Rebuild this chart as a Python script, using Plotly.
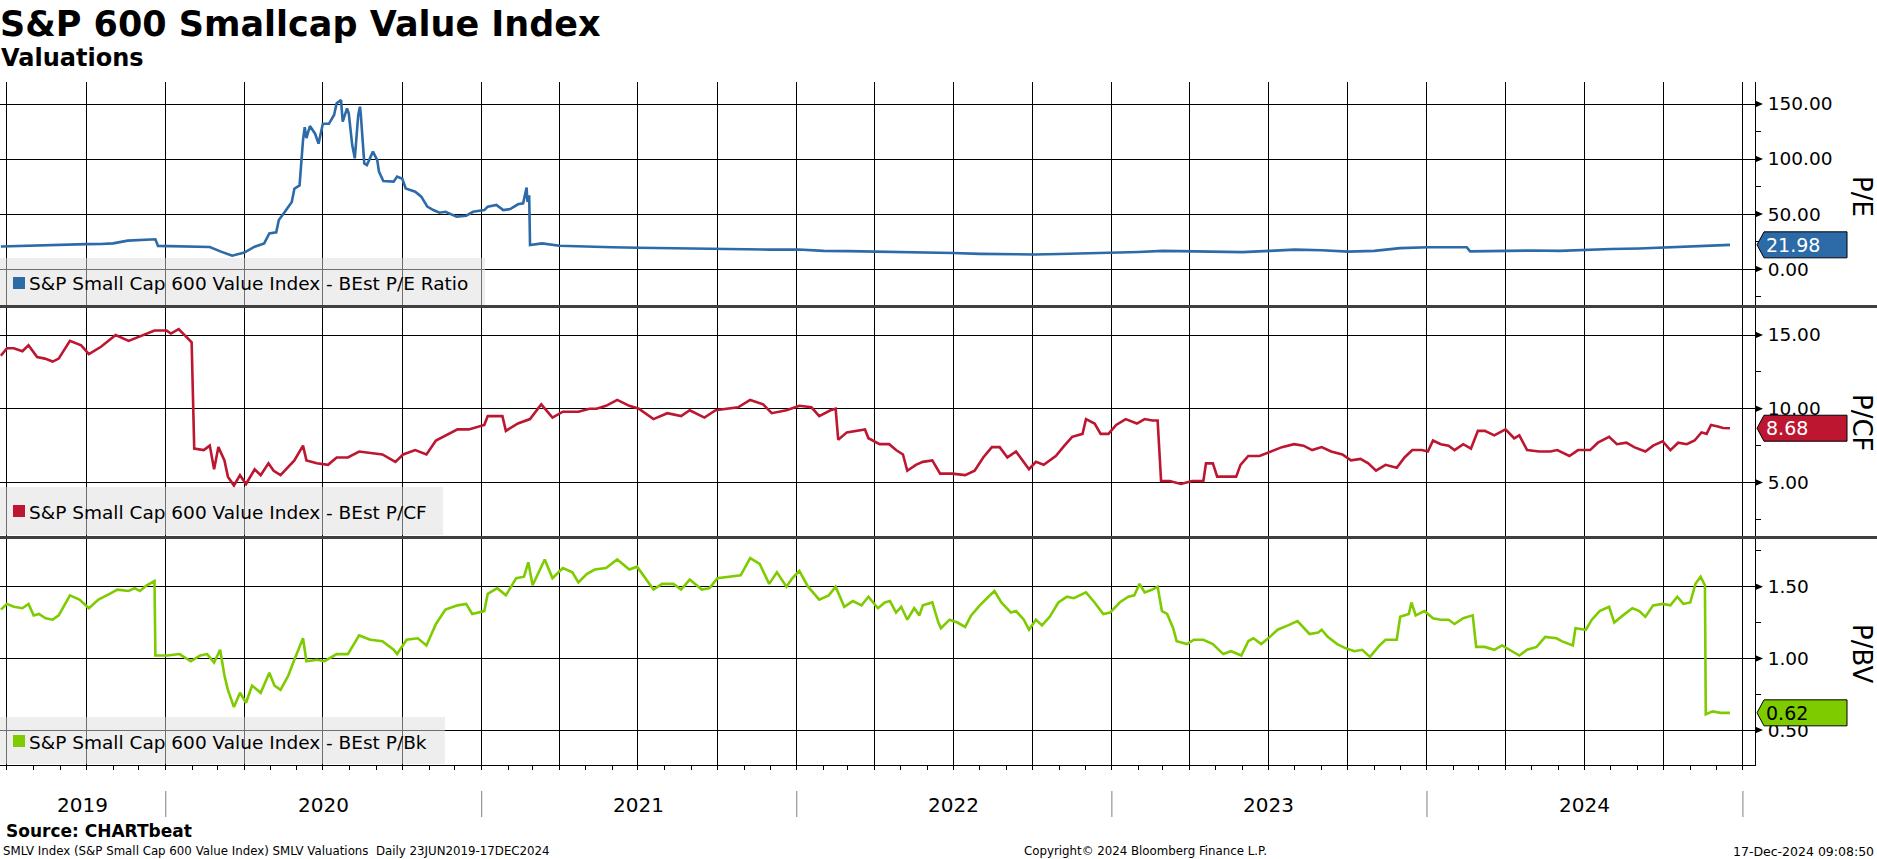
import plotly.graph_objects as go

# ---------------- data ----------------
pe_dates = ["2019-06-24","2019-07-08","2019-07-22","2019-08-05","2019-08-19","2019-09-03","2019-09-17","2019-10-01",
    "2019-10-18","2019-11-01","2019-11-18","2019-12-03","2019-12-20","2019-12-23","2020-01-10","2020-02-03","2020-02-21",
    "2020-03-05","2020-03-18","2020-04-01","2020-04-13","2020-04-24","2020-04-30","2020-05-08","2020-05-11","2020-05-18",
    "2020-05-26","2020-05-29","2020-06-04","2020-06-08","2020-06-10","2020-06-12","2020-06-16","2020-06-22","2020-06-26",
    "2020-07-01","2020-07-08","2020-07-14","2020-07-17","2020-07-22","2020-07-24","2020-07-29","2020-07-31","2020-08-04",
    "2020-08-07","2020-08-11","2020-08-13","2020-08-14","2020-08-18","2020-08-21","2020-08-28","2020-09-02","2020-09-04",
    "2020-09-09","2020-09-21","2020-09-25","2020-10-01","2020-10-05","2020-10-16","2020-10-23","2020-10-30","2020-11-06",
    "2020-11-13","2020-11-20","2020-12-03","2020-12-14","2020-12-22","2021-01-04","2021-01-08","2021-01-18","2021-01-26",
    "2021-02-03","2021-02-12","2021-02-18","2021-02-22","2021-02-23","2021-02-25","2021-02-26","2021-03-12","2021-04-01",
    "2021-05-03","2021-06-01","2021-07-01","2021-08-02","2021-09-01","2021-10-01","2021-11-01","2021-12-01","2022-01-03",
    "2022-02-01","2022-03-01","2022-04-01","2022-05-02","2022-06-01","2022-07-01","2022-08-01","2022-09-01","2022-10-03",
    "2022-11-01","2022-12-01","2023-01-03","2023-02-01","2023-03-01","2023-04-03","2023-05-01","2023-06-01","2023-07-03",
    "2023-08-01","2023-09-01","2023-10-02","2023-11-01","2023-12-01","2024-01-02","2024-02-01","2024-02-16","2024-02-20",
    "2024-03-01","2024-04-01","2024-05-01","2024-06-03","2024-07-01","2024-08-01","2024-09-03","2024-10-01","2024-11-01",
    "2024-12-02","2024-12-17"]
pe_values = [20.5,20.8,21.5,22.0,21.8,22.3,22.8,22.6,
    22.7,23.3,25.8,26.5,27.0,21.0,20.6,20.3,20.0,
    15.8,12.1,15.0,20.3,23.3,32.4,33.3,44.5,52.0,
    61.0,73.0,76.0,117.0,129.0,119.0,130.0,123.0,114.0,
    132.0,132.0,140.0,150.6,153.6,134.0,146.0,141.5,112.7,
    100.6,140.0,147.6,140.0,96.0,94.5,106.7,99.0,88.5,
    80.0,79.4,84.0,82.0,73.3,70.3,65.8,56.7,53.6,
    51.2,52.0,47.6,48.5,52.0,53.6,56.7,58.2,53.6,
    54.5,58.8,59.7,74.0,61.0,67.0,21.8,23.3,21.2,
    20.8,19.8,19.3,18.9,18.7,18.3,18.0,17.6,17.8,
    16.5,16.3,16.0,15.6,15.4,14.6,13.8,13.3,13.2,
    13.6,14.2,14.4,15.5,16.5,16.0,15.5,15.4,16.5,
    17.6,17.0,15.8,16.5,19.0,19.8,20.0,19.8,16.0,
    16.2,16.5,16.8,16.5,17.5,18.2,18.7,19.5,20.5,
    21.8,21.98]

pcf_dates = ["2019-06-24","2019-07-01","2019-07-09","2019-07-19","2019-07-26","2019-08-05","2019-08-14","2019-08-23",
    "2019-08-30","2019-09-12","2019-09-25","2019-10-04","2019-10-18","2019-11-04","2019-11-19","2019-12-02","2019-12-19",
    "2020-01-02","2020-01-07","2020-01-16","2020-01-23","2020-01-31","2020-02-03","2020-02-14","2020-02-21","2020-02-26",
    "2020-03-02","2020-03-09","2020-03-13","2020-03-20","2020-03-27","2020-04-03","2020-04-13","2020-04-20","2020-04-29",
    "2020-05-05","2020-05-13","2020-05-21","2020-05-29","2020-06-08","2020-06-12","2020-06-24","2020-07-07","2020-07-17",
    "2020-07-30","2020-08-12","2020-08-25","2020-09-08","2020-09-23","2020-10-02","2020-10-16","2020-10-29","2020-11-09",
    "2020-11-20","2020-12-04","2020-12-17","2021-01-04","2021-01-08","2021-01-25","2021-01-29","2021-02-12","2021-02-26",
    "2021-03-11","2021-03-24","2021-04-05","2021-04-23","2021-05-06","2021-05-14","2021-05-25","2021-06-07","2021-06-21",
    "2021-07-02","2021-07-19","2021-08-04","2021-08-20","2021-08-30","2021-09-16","2021-09-29","2021-10-15","2021-10-25",
    "2021-11-08","2021-11-23","2021-12-03","2021-12-20","2022-01-04","2022-01-18","2022-01-27","2022-02-09","2022-02-15",
    "2022-02-18","2022-02-28","2022-03-21","2022-03-25","2022-04-07","2022-04-18","2022-04-26","2022-05-04","2022-05-09",
    "2022-05-19","2022-05-27","2022-06-07","2022-06-16","2022-06-30","2022-07-15","2022-07-26","2022-08-05","2022-08-15",
    "2022-08-24","2022-09-02","2022-09-12","2022-09-27","2022-10-05","2022-10-14","2022-10-28","2022-11-07","2022-11-16",
    "2022-11-28","2022-12-02","2022-12-12","2022-12-19","2022-12-28","2023-01-06","2023-01-17","2023-01-30","2023-02-08",
    "2023-02-17","2023-02-23","2023-02-27","2023-03-09","2023-03-22","2023-04-04","2023-04-17","2023-04-20","2023-04-28",
    "2023-05-03","2023-05-25","2023-05-30","2023-06-08","2023-06-21","2023-07-05","2023-07-17","2023-07-31","2023-08-11",
    "2023-08-21","2023-09-01","2023-09-12","2023-09-25","2023-10-05","2023-10-16","2023-10-25","2023-11-03","2023-11-14",
    "2023-11-27","2023-12-06","2023-12-15","2023-12-26","2024-01-02","2024-01-08","2024-01-17","2024-01-26","2024-02-02",
    "2024-02-12","2024-02-21","2024-02-29","2024-03-08","2024-03-19","2024-04-01","2024-04-11","2024-04-17","2024-04-26",
    "2024-05-10","2024-05-23","2024-05-31","2024-06-14","2024-06-24","2024-07-08","2024-07-17","2024-07-30","2024-08-08",
    "2024-08-19","2024-08-28","2024-09-10","2024-09-19","2024-09-30","2024-10-09","2024-10-18","2024-10-28","2024-11-06",
    "2024-11-14","2024-11-20","2024-11-25","2024-12-03","2024-12-09","2024-12-17"]
pcf_values = [13.6,14.1,14.1,13.9,14.3,13.5,13.4,13.2,
    13.4,14.6,14.3,13.7,14.2,15.0,14.6,14.9,15.3,
    15.3,15.1,15.4,15.0,14.5,7.3,7.2,7.5,5.9,
    7.4,6.5,5.4,4.8,5.5,4.9,5.9,5.5,6.3,
    5.8,5.5,6.0,6.5,7.5,6.5,6.3,6.2,6.7,
    6.7,7.1,7.0,6.9,6.4,6.9,7.2,6.9,7.85,
    8.2,8.6,8.6,8.9,9.5,9.5,8.5,9.0,9.3,
    10.3,9.4,9.8,9.8,10.0,10.0,10.2,10.6,10.2,
    10.0,9.3,9.7,9.5,9.9,9.4,9.9,10.0,10.1,
    10.6,10.3,9.7,9.9,10.2,10.1,9.5,9.9,10.0,
    7.9,8.4,8.6,8.0,7.6,7.6,7.2,6.9,5.8,
    6.2,6.4,6.5,5.6,5.6,5.5,5.8,6.7,7.4,
    7.4,6.7,7.1,5.9,6.4,6.2,6.8,7.5,8.1,
    8.3,9.3,9.0,8.3,8.3,8.9,9.3,9.0,9.3,
    9.2,9.2,5.1,5.1,4.9,5.1,5.1,6.3,6.3,
    5.4,5.4,6.2,6.8,6.8,7.1,7.4,7.6,7.5,
    7.2,7.4,7.1,6.9,6.5,6.6,6.3,5.8,6.2,
    6.0,6.7,7.2,7.2,7.1,7.85,7.6,7.5,7.2,
    7.6,7.3,8.5,8.5,8.2,8.6,8.0,8.2,7.2,
    7.1,7.1,7.2,6.8,7.2,7.2,7.7,8.1,7.6,
    7.7,7.4,7.1,7.5,7.8,7.2,7.7,7.6,7.85,
    8.4,8.3,8.9,8.8,8.7,8.68]

pb_dates = ["2019-06-24","2019-07-01","2019-07-09","2019-07-19","2019-07-26","2019-08-01","2019-08-07","2019-08-15",
    "2019-08-23","2019-08-30","2019-09-12","2019-09-23","2019-10-04","2019-10-15","2019-10-28","2019-11-06","2019-11-19",
    "2019-11-26","2019-12-02","2019-12-10","2019-12-19","2019-12-20","2020-01-03","2020-01-17","2020-01-30","2020-02-10",
    "2020-02-18","2020-02-26","2020-03-04","2020-03-09","2020-03-13","2020-03-20","2020-03-27","2020-04-03","2020-04-10",
    "2020-04-20","2020-04-30","2020-05-06","2020-05-13","2020-05-22","2020-05-29","2020-06-08","2020-06-12","2020-06-24",
    "2020-07-03","2020-07-17","2020-07-30","2020-08-12","2020-08-25","2020-09-08","2020-09-21","2020-09-25","2020-10-06",
    "2020-10-19","2020-10-29","2020-11-09","2020-11-20","2020-12-04","2020-12-14","2020-12-21","2021-01-04","2021-01-08",
    "2021-01-19","2021-01-29","2021-02-10","2021-02-19","2021-02-24","2021-03-01","2021-03-15","2021-03-24","2021-04-05",
    "2021-04-16","2021-04-23","2021-05-03","2021-05-12","2021-05-25","2021-06-07","2021-06-21","2021-06-30","2021-07-09",
    "2021-07-19","2021-07-29","2021-08-11","2021-08-20","2021-08-30","2021-09-13","2021-09-22","2021-10-01","2021-10-15",
    "2021-10-28","2021-11-08","2021-11-19","2021-11-30","2021-12-09","2021-12-20","2021-12-27","2022-01-04","2022-01-14",
    "2022-01-27","2022-02-07","2022-02-15","2022-02-25","2022-03-07","2022-03-17","2022-03-25","2022-04-05","2022-04-13",
    "2022-04-19","2022-04-26","2022-05-02","2022-05-09","2022-05-17","2022-05-23","2022-05-27","2022-06-07","2022-06-14",
    "2022-06-17","2022-06-27","2022-07-06","2022-07-15","2022-07-22","2022-08-01","2022-08-11","2022-08-18","2022-08-26",
    "2022-09-06","2022-09-12","2022-09-21","2022-09-27","2022-10-05","2022-10-12","2022-10-21","2022-10-31","2022-11-10",
    "2022-11-18","2022-12-02","2022-12-12","2022-12-22","2022-12-30","2023-01-10","2023-01-20","2023-01-27","2023-02-02",
    "2023-02-08","2023-02-17","2023-02-23","2023-02-28","2023-03-06","2023-03-13","2023-03-17","2023-03-29","2023-04-06",
    "2023-04-17","2023-04-28","2023-05-10","2023-05-19","2023-05-31","2023-06-08","2023-06-14","2023-06-23","2023-07-03",
    "2023-07-12","2023-07-24","2023-08-04","2023-08-18","2023-08-28","2023-09-01","2023-09-08","2023-09-19","2023-09-29",
    "2023-10-09","2023-10-18","2023-10-27","2023-11-07","2023-11-14","2023-11-27","2023-12-01","2023-12-11","2023-12-14",
    "2023-12-19","2023-12-29","2024-01-08","2024-01-17","2024-01-26","2024-02-02","2024-02-12","2024-02-23","2024-02-27",
    "2024-03-08","2024-03-19","2024-03-28","2024-04-08","2024-04-17","2024-04-26","2024-05-07","2024-05-17","2024-05-30",
    "2024-06-05","2024-06-18","2024-06-21","2024-07-03","2024-07-10","2024-07-19","2024-07-30","2024-08-05","2024-08-15",
    "2024-08-26","2024-09-03","2024-09-10","2024-09-19","2024-09-30","2024-10-09","2024-10-17","2024-10-24","2024-11-01",
    "2024-11-07","2024-11-13","2024-11-18","2024-11-19","2024-11-27","2024-12-06","2024-12-17"]
pb_values = [1.34,1.38,1.36,1.35,1.38,1.30,1.31,1.28,
    1.27,1.30,1.44,1.41,1.35,1.41,1.45,1.48,1.47,
    1.49,1.47,1.51,1.54,1.02,1.02,1.03,0.98,1.02,
    1.03,0.97,1.06,0.88,0.78,0.66,0.76,0.69,0.81,
    0.76,0.90,0.81,0.78,0.88,0.99,1.14,0.98,0.99,
    0.98,1.03,1.03,1.16,1.13,1.12,1.06,1.03,1.13,
    1.14,1.09,1.24,1.34,1.37,1.38,1.31,1.33,1.45,
    1.49,1.44,1.56,1.57,1.67,1.51,1.69,1.56,1.63,
    1.60,1.53,1.59,1.62,1.63,1.69,1.62,1.64,1.56,
    1.48,1.52,1.52,1.48,1.55,1.48,1.49,1.56,1.57,
    1.58,1.70,1.66,1.52,1.60,1.50,1.56,1.61,1.50,
    1.41,1.44,1.50,1.36,1.40,1.37,1.43,1.35,1.39,
    1.40,1.32,1.36,1.27,1.35,1.30,1.37,1.39,1.25,
    1.21,1.27,1.25,1.22,1.30,1.37,1.43,1.47,1.39,
    1.32,1.33,1.27,1.20,1.27,1.23,1.29,1.39,1.43,
    1.42,1.46,1.39,1.31,1.32,1.39,1.43,1.44,1.52,
    1.46,1.48,1.50,1.33,1.31,1.21,1.12,1.10,1.13,
    1.13,1.10,1.03,1.05,1.02,1.12,1.14,1.10,1.15,
    1.20,1.23,1.26,1.17,1.18,1.20,1.15,1.10,1.07,
    1.05,1.06,1.01,1.09,1.13,1.13,1.29,1.31,1.39,
    1.30,1.33,1.28,1.27,1.27,1.24,1.28,1.30,1.08,
    1.08,1.06,1.09,1.05,1.02,1.06,1.08,1.15,1.14,
    1.12,1.09,1.21,1.20,1.27,1.33,1.36,1.25,1.30,
    1.35,1.33,1.29,1.37,1.38,1.37,1.43,1.38,1.39,
    1.52,1.57,1.51,0.61,0.63,0.62,0.62]

series_names = ["S&amp;P Small Cap 600 Value Index - BEst P/E Ratio",
                "S&amp;P Small Cap 600 Value Index - BEst P/CF",
                "S&amp;P Small Cap 600 Value Index - BEst P/Bk"]
axis_titles = ["P/E", "P/CF", "P/BV"]
year_labels = ["2019", "2020", "2021", "2022", "2023", "2024"]
year_centers = ["2019-09-27", "2020-07-02", "2021-07-02", "2022-07-02", "2023-07-02", "2024-07-02"]
year_starts = ["2020-01-01", "2021-01-01", "2022-01-01", "2023-01-01", "2024-01-01", "2025-01-01"]

# ---------------- layout helpers ----------------
W, H = 1877, 859
def fx(p):
    return p / W
def fy(p):
    return 1 - p / H

FONT = "DejaVu Sans"
X_RANGE = ["2019-06-23", "2025-01-15"]
RIGHT = 1755
colors = ["#2c6aa8", "#bd1630", "#7ecb00"]
label_text_colors = ["white", "white", "black"]

panels = [
    dict(top=82, bot=305, rng=[-32.7, 170.0], dtick=50, minor=25, legend=(258, 305), lw=485, sq=(277, 289), ty=283, title_y=196),
    dict(top=308, bot=536, rng=[1.375, 16.83], dtick=5, minor=2.5, legend=(487, 535), lw=443, sq=(505, 517), ty=512, title_y=423),
    dict(top=539, bot=765, rng=[0.256, 1.833], dtick=0.5, minor=0.25, legend=(717, 764), lw=445, sq=(735, 747), ty=742, title_y=653),
]
data = [(pe_dates, pe_values), (pcf_dates, pcf_values), (pb_dates, pb_values)]

fig = go.Figure()
shapes = []
annotations = []
layout = {}

for i, (p, (dx, dy)) in enumerate(zip(panels, data)):
    n = "" if i == 0 else str(i + 1)
    xa, ya = "x" + n, "y" + n
    fig.add_trace(go.Scatter(x=dx, y=dy, xaxis=xa, yaxis=ya, mode="lines",
                             line=dict(color=colors[i], width=2.6), hoverinfo="skip", showlegend=False))
    xaxis = dict(domain=[0, fx(RIGHT)], range=X_RANGE, type="date", anchor=ya,
                 showgrid=True, gridcolor="black", gridwidth=1, dtick="M3", tick0="2019-07-01",
                 showticklabels=False, zeroline=False, fixedrange=True)
    if i == 2:
        xaxis.update(showline=True, linecolor="black", linewidth=1, ticks="outside", ticklen=4,
                     tickcolor="black", tickwidth=1,
                     minor=dict(dtick="M1", tick0="2019-07-01", ticks="outside", ticklen=4,
                                tickcolor="black", showgrid=False))
    else:
        xaxis.update(ticks="", showline=False)
    layout["xaxis" + n] = xaxis
    layout["yaxis" + n] = dict(domain=[fy(p["bot"]), fy(p["top"])], range=p["rng"], side="right", anchor=xa,
                               showline=True, linecolor="black", linewidth=1,
                               showgrid=True, gridcolor="black", gridwidth=1,
                               tick0=0, dtick=p["dtick"], tickformat=".2f",
                               ticks="outside", ticklen=8, tickcolor="rgba(0,0,0,0)",
                               tickfont=dict(family=FONT, size=18.5, color="black"),
                               minor=dict(tick0=0, dtick=p["minor"], ticks="outside", ticklen=5,
                                          tickcolor="black", showgrid=False),
                               zeroline=False, fixedrange=True)
    upp = (p["rng"][1] - p["rng"][0]) / (p["bot"] - p["top"])
    v = 0.0
    k = 0
    while v <= p["rng"][1]:
        if v >= p["rng"][0]:
            shapes.append(dict(type="path", xref="paper", yref=ya, layer="above",
                               path=f"M {fx(RIGHT)} {v + 3.5*upp} L {fx(RIGHT+8)} {v} L {fx(RIGHT)} {v - 3.5*upp} Z",
                               fillcolor="black", line=dict(width=0)))
        k += 1
        v = k * p["dtick"]
    last = dy[-1]
    tip, sh, rt, hh = RIGHT + 2, RIGHT + 9, 1847, 13
    shapes.append(dict(type="path", xref="paper", yref=ya, layer="above",
                       path=(f"M {fx(tip)} {last} L {fx(sh)} {last + hh*upp} L {fx(rt)} {last + hh*upp} "
                             f"L {fx(rt)} {last - hh*upp} L {fx(sh)} {last - hh*upp} Z"),
                       fillcolor=colors[i], line=dict(color="black", width=1)))
    annotations.append(dict(xref="paper", yref=ya, x=fx(1764), y=last, text=f"{last:.2f}",
                            xanchor="left", yanchor="middle", showarrow=False,
                            font=dict(family=FONT, size=19, color=label_text_colors[i])))
    annotations.append(dict(xref="paper", yref="paper", x=fx(1862), y=fy(p["title_y"]), text=axis_titles[i],
                            textangle=90, xanchor="center", yanchor="middle", showarrow=False,
                            font=dict(family=FONT, size=26, color="black")))
    lt, lb = p["legend"]
    shapes.append(dict(type="rect", xref="paper", yref="paper", layer="above",
                       x0=fx(0), x1=fx(p["lw"]), y0=fy(lb), y1=fy(lt),
                       fillcolor="rgba(222,222,222,0.5)", line=dict(width=0)))
    shapes.append(dict(type="rect", xref="paper", yref="paper", layer="above",
                       x0=fx(13), x1=fx(25), y0=fy(p["sq"][1]), y1=fy(p["sq"][0]),
                       fillcolor=colors[i], line=dict(width=0)))
    annotations.append(dict(xref="paper", yref="paper", x=fx(27), y=fy(p["ty"]), text=series_names[i],
                            xanchor="left", yanchor="middle", showarrow=False,
                            font=dict(family=FONT, size=18.5, color="black")))

for yy in (306.5, 537.5):
    shapes.append(dict(type="line", xref="paper", yref="paper", x0=0, x1=1, y0=fy(yy), y1=fy(yy),
                       line=dict(color="#404040", width=3), layer="above"))

for lab, c in zip(year_labels, year_centers):
    annotations.append(dict(xref="x3", yref="paper", x=c, y=fy(805), text=lab, showarrow=False,
                            xanchor="center", yanchor="middle", font=dict(family=FONT, size=20, color="black")))
for s in year_starts:
    shapes.append(dict(type="line", xref="x3", yref="paper", x0=s, x1=s, y0=fy(817), y1=fy(791),
                       line=dict(color="#808080", width=1)))

annotations += [
    dict(xref="paper", yref="paper", x=fx(-2), y=fy(24), text="<b>S&amp;P 600 Smallcap Value Index</b>",
         xanchor="left", yanchor="middle", showarrow=False, font=dict(family=FONT, size=35, color="black")),
    dict(xref="paper", yref="paper", x=fx(-1), y=fy(58), text="<b>Valuations</b>",
         xanchor="left", yanchor="middle", showarrow=False, font=dict(family=FONT, size=24, color="black")),
    dict(xref="paper", yref="paper", x=fx(4), y=fy(831), text="<b>Source: CHARTbeat</b>",
         xanchor="left", yanchor="middle", showarrow=False, font=dict(family=FONT, size=17, color="black")),
    dict(xref="paper", yref="paper", x=fx(1), y=fy(851),
         text="SMLV Index (S&amp;P Small Cap 600 Value Index) SMLV Valuations  Daily 23JUN2019-17DEC2024",
         xanchor="left", yanchor="middle", showarrow=False, font=dict(family=FONT, size=11.8, color="black")),
    dict(xref="paper", yref="paper", x=fx(1145), y=fy(851), text="Copyright© 2024 Bloomberg Finance L.P.",
         xanchor="center", yanchor="middle", showarrow=False, font=dict(family=FONT, size=11.8, color="black")),
    dict(xref="paper", yref="paper", x=fx(1876), y=fy(851), text="17-Dec-2024 09:08:50",
         xanchor="right", yanchor="middle", showarrow=False, font=dict(family=FONT, size=12.5, color="black")),
]

fig.update_layout(**layout)
fig.update_layout(width=W, height=H, margin=dict(l=0, r=0, t=0, b=0),
                  paper_bgcolor="white", plot_bgcolor="white",
                  shapes=shapes, annotations=annotations, showlegend=False,
                  font=dict(family=FONT, color="black"))
fig.write_html("out.html", config={"displayModeBar": False},
               post_script="document.body.style.margin='0';document.body.style.overflow='hidden';")
